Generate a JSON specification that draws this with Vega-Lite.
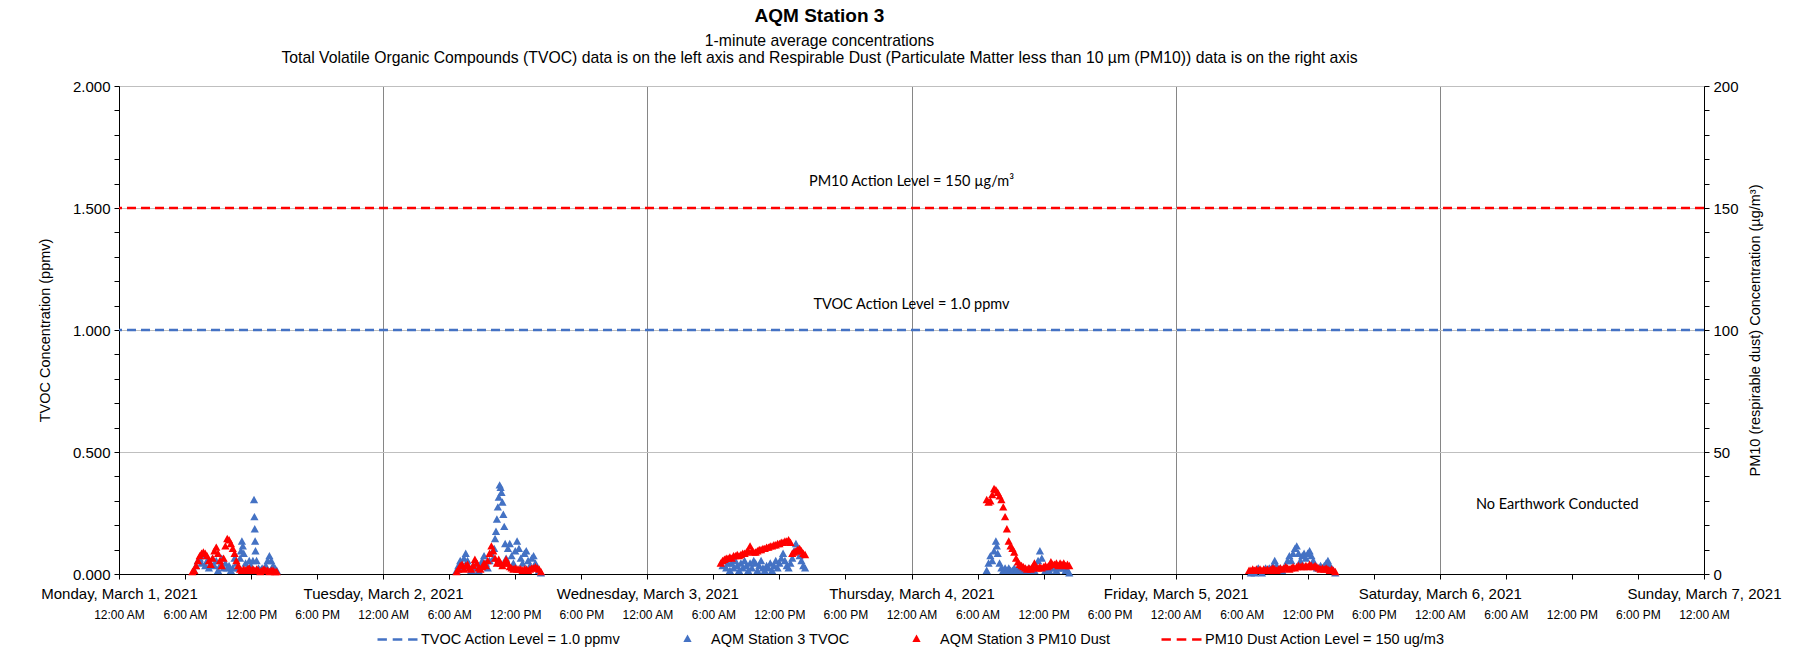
{
  "$schema": "https://vega.github.io/schema/vega-lite/v6.json",
  "width": 1585,
  "height": 488,
  "autosize": "none",
  "padding": {"left": 119, "top": 86, "right": 93, "bottom": 81},
  "background": "white",
  "title": {
    "text": "AQM Station 3",
    "subtitle": ["1-minute average concentrations", "Total Volatile Organic Compounds (TVOC) data is on the left axis and Respirable Dust (Particulate Matter less than 10 µm (PM10)) data is on the right axis"],
    "anchor": "middle",
    "frame": "group",
    "dx": -92,
    "offset": 13,
    "font": "Liberation Sans",
    "fontSize": 19,
    "fontWeight": "bold",
    "color": "#000000",
    "subtitleFont": "Liberation Sans",
    "subtitleFontSize": 15.75,
    "subtitleColor": "#000000",
    "subtitlePadding": 8,
    "subtitleLineHeight": 17
  },
  "datasets": {
    "tvoc": [
      {"t": "2021-03-01T06:50", "v": 0.01}, {"t": "2021-03-01T07:00", "v": 0.03}, {"t": "2021-03-01T07:10", "v": 0.05}, {"t": "2021-03-01T07:20", "v": 0.06},
      {"t": "2021-03-01T07:30", "v": 0.04}, {"t": "2021-03-01T07:40", "v": 0.07}, {"t": "2021-03-01T07:50", "v": 0.03}, {"t": "2021-03-01T08:00", "v": 0.05},
      {"t": "2021-03-01T08:10", "v": 0.02}, {"t": "2021-03-01T08:20", "v": 0.04}, {"t": "2021-03-01T08:30", "v": 0.06}, {"t": "2021-03-01T08:40", "v": 0.03},
      {"t": "2021-03-01T08:50", "v": 0.05}, {"t": "2021-03-01T09:00", "v": 0.01}, {"t": "2021-03-01T09:10", "v": 0.03}, {"t": "2021-03-01T09:20", "v": 0.06},
      {"t": "2021-03-01T09:30", "v": 0.02}, {"t": "2021-03-01T09:40", "v": 0.04}, {"t": "2021-03-01T09:50", "v": 0.02}, {"t": "2021-03-01T10:00", "v": 0.03},
      {"t": "2021-03-01T10:10", "v": 0.01}, {"t": "2021-03-01T10:20", "v": 0.02}, {"t": "2021-03-01T10:30", "v": 0.06}, {"t": "2021-03-01T10:40", "v": 0.04},
      {"t": "2021-03-01T10:50", "v": 0.02}, {"t": "2021-03-01T11:00", "v": 0.06}, {"t": "2021-03-01T11:05", "v": 0.09}, {"t": "2021-03-01T11:10", "v": 0.13},
      {"t": "2021-03-01T11:15", "v": 0.11}, {"t": "2021-03-01T11:20", "v": 0.08}, {"t": "2021-03-01T11:30", "v": 0.04}, {"t": "2021-03-01T11:40", "v": 0.02},
      {"t": "2021-03-01T11:50", "v": 0.05}, {"t": "2021-03-01T12:00", "v": 0.03}, {"t": "2021-03-01T12:10", "v": 0.05}, {"t": "2021-03-01T12:16", "v": 0.30},
      {"t": "2021-03-01T12:18", "v": 0.23}, {"t": "2021-03-01T12:20", "v": 0.18}, {"t": "2021-03-01T12:22", "v": 0.13}, {"t": "2021-03-01T12:24", "v": 0.09},
      {"t": "2021-03-01T12:30", "v": 0.05}, {"t": "2021-03-01T12:40", "v": 0.02}, {"t": "2021-03-01T12:50", "v": 0.01}, {"t": "2021-03-01T13:00", "v": 0.02},
      {"t": "2021-03-01T13:10", "v": 0.01}, {"t": "2021-03-01T13:20", "v": 0.03}, {"t": "2021-03-01T13:30", "v": 0.05}, {"t": "2021-03-01T13:40", "v": 0.07},
      {"t": "2021-03-01T13:50", "v": 0.05}, {"t": "2021-03-01T14:00", "v": 0.03}, {"t": "2021-03-01T14:10", "v": 0.02}, {"t": "2021-03-01T14:20", "v": 0.01},

      {"t": "2021-03-02T06:40", "v": 0.01}, {"t": "2021-03-02T06:50", "v": 0.03}, {"t": "2021-03-02T07:00", "v": 0.05}, {"t": "2021-03-02T07:10", "v": 0.02},
      {"t": "2021-03-02T07:20", "v": 0.06}, {"t": "2021-03-02T07:30", "v": 0.08}, {"t": "2021-03-02T07:40", "v": 0.05}, {"t": "2021-03-02T07:50", "v": 0.02},
      {"t": "2021-03-02T08:00", "v": 0.01}, {"t": "2021-03-02T08:10", "v": 0.03}, {"t": "2021-03-02T08:20", "v": 0.02}, {"t": "2021-03-02T08:30", "v": 0.04},
      {"t": "2021-03-02T08:40", "v": 0.01}, {"t": "2021-03-02T08:50", "v": 0.03}, {"t": "2021-03-02T09:00", "v": 0.05}, {"t": "2021-03-02T09:10", "v": 0.07},
      {"t": "2021-03-02T09:20", "v": 0.04}, {"t": "2021-03-02T09:30", "v": 0.02}, {"t": "2021-03-02T09:40", "v": 0.05}, {"t": "2021-03-02T09:50", "v": 0.08},
      {"t": "2021-03-02T10:00", "v": 0.06}, {"t": "2021-03-02T10:05", "v": 0.10}, {"t": "2021-03-02T10:10", "v": 0.14}, {"t": "2021-03-02T10:15", "v": 0.17},
      {"t": "2021-03-02T10:20", "v": 0.22}, {"t": "2021-03-02T10:25", "v": 0.27}, {"t": "2021-03-02T10:30", "v": 0.31}, {"t": "2021-03-02T10:35", "v": 0.36},
      {"t": "2021-03-02T10:40", "v": 0.35}, {"t": "2021-03-02T10:45", "v": 0.33}, {"t": "2021-03-02T10:50", "v": 0.29}, {"t": "2021-03-02T10:55", "v": 0.24},
      {"t": "2021-03-02T11:00", "v": 0.19}, {"t": "2021-03-02T11:05", "v": 0.12}, {"t": "2021-03-02T11:10", "v": 0.06}, {"t": "2021-03-02T11:20", "v": 0.10},
      {"t": "2021-03-02T11:30", "v": 0.12}, {"t": "2021-03-02T11:40", "v": 0.07}, {"t": "2021-03-02T11:50", "v": 0.04}, {"t": "2021-03-02T12:00", "v": 0.09},
      {"t": "2021-03-02T12:10", "v": 0.13}, {"t": "2021-03-02T12:20", "v": 0.10}, {"t": "2021-03-02T12:30", "v": 0.06}, {"t": "2021-03-02T12:40", "v": 0.04},
      {"t": "2021-03-02T12:50", "v": 0.08}, {"t": "2021-03-02T13:00", "v": 0.09}, {"t": "2021-03-02T13:10", "v": 0.05}, {"t": "2021-03-02T13:20", "v": 0.03},
      {"t": "2021-03-02T13:30", "v": 0.06}, {"t": "2021-03-02T13:40", "v": 0.07}, {"t": "2021-03-02T13:50", "v": 0.04}, {"t": "2021-03-02T14:00", "v": 0.02},
      {"t": "2021-03-02T14:10", "v": 0.01}, {"t": "2021-03-02T14:20", "v": 0.00},

      {"t": "2021-03-03T06:50", "v": 0.03}, {"t": "2021-03-03T07:00", "v": 0.05}, {"t": "2021-03-03T07:10", "v": 0.02}, {"t": "2021-03-03T07:20", "v": 0.04},
      {"t": "2021-03-03T07:30", "v": 0.01}, {"t": "2021-03-03T07:40", "v": 0.04}, {"t": "2021-03-03T07:50", "v": 0.02}, {"t": "2021-03-03T08:00", "v": 0.05},
      {"t": "2021-03-03T08:10", "v": 0.03}, {"t": "2021-03-03T08:20", "v": 0.01}, {"t": "2021-03-03T08:30", "v": 0.04}, {"t": "2021-03-03T08:40", "v": 0.02},
      {"t": "2021-03-03T08:50", "v": 0.05}, {"t": "2021-03-03T09:00", "v": 0.03}, {"t": "2021-03-03T09:10", "v": 0.01}, {"t": "2021-03-03T09:20", "v": 0.04},
      {"t": "2021-03-03T09:30", "v": 0.02}, {"t": "2021-03-03T09:40", "v": 0.05}, {"t": "2021-03-03T09:50", "v": 0.04}, {"t": "2021-03-03T10:00", "v": 0.01},
      {"t": "2021-03-03T10:10", "v": 0.03}, {"t": "2021-03-03T10:20", "v": 0.05}, {"t": "2021-03-03T10:30", "v": 0.02}, {"t": "2021-03-03T10:40", "v": 0.01},
      {"t": "2021-03-03T10:50", "v": 0.03}, {"t": "2021-03-03T11:00", "v": 0.02}, {"t": "2021-03-03T11:10", "v": 0.04}, {"t": "2021-03-03T11:20", "v": 0.01},
      {"t": "2021-03-03T11:30", "v": 0.03}, {"t": "2021-03-03T11:40", "v": 0.05}, {"t": "2021-03-03T11:50", "v": 0.02}, {"t": "2021-03-03T12:00", "v": 0.04},
      {"t": "2021-03-03T12:10", "v": 0.06}, {"t": "2021-03-03T12:20", "v": 0.08}, {"t": "2021-03-03T12:30", "v": 0.05}, {"t": "2021-03-03T12:40", "v": 0.03},
      {"t": "2021-03-03T12:50", "v": 0.02}, {"t": "2021-03-03T13:00", "v": 0.04}, {"t": "2021-03-03T13:10", "v": 0.06}, {"t": "2021-03-03T13:20", "v": 0.09},
      {"t": "2021-03-03T13:30", "v": 0.12}, {"t": "2021-03-03T13:40", "v": 0.10}, {"t": "2021-03-03T13:50", "v": 0.07}, {"t": "2021-03-03T14:00", "v": 0.05},
      {"t": "2021-03-03T14:10", "v": 0.03}, {"t": "2021-03-03T14:20", "v": 0.02},

      {"t": "2021-03-04T06:50", "v": 0.01}, {"t": "2021-03-04T07:00", "v": 0.04}, {"t": "2021-03-04T07:10", "v": 0.07}, {"t": "2021-03-04T07:20", "v": 0.05},
      {"t": "2021-03-04T07:30", "v": 0.09}, {"t": "2021-03-04T07:40", "v": 0.13}, {"t": "2021-03-04T07:45", "v": 0.11}, {"t": "2021-03-04T07:50", "v": 0.08},
      {"t": "2021-03-04T08:00", "v": 0.04}, {"t": "2021-03-04T08:10", "v": 0.02}, {"t": "2021-03-04T08:20", "v": 0.01}, {"t": "2021-03-04T08:30", "v": 0.02},
      {"t": "2021-03-04T08:40", "v": 0.01}, {"t": "2021-03-04T08:50", "v": 0.02}, {"t": "2021-03-04T09:00", "v": 0.01}, {"t": "2021-03-04T09:10", "v": 0.01},
      {"t": "2021-03-04T09:20", "v": 0.02}, {"t": "2021-03-04T09:30", "v": 0.01}, {"t": "2021-03-04T09:40", "v": 0.02}, {"t": "2021-03-04T09:50", "v": 0.01},
      {"t": "2021-03-04T10:00", "v": 0.01}, {"t": "2021-03-04T10:10", "v": 0.02}, {"t": "2021-03-04T10:20", "v": 0.01}, {"t": "2021-03-04T10:30", "v": 0.01},
      {"t": "2021-03-04T10:40", "v": 0.02}, {"t": "2021-03-04T10:50", "v": 0.01}, {"t": "2021-03-04T11:00", "v": 0.02}, {"t": "2021-03-04T11:10", "v": 0.01},
      {"t": "2021-03-04T11:20", "v": 0.03}, {"t": "2021-03-04T11:30", "v": 0.05}, {"t": "2021-03-04T11:40", "v": 0.09}, {"t": "2021-03-04T11:50", "v": 0.06},
      {"t": "2021-03-04T12:00", "v": 0.02}, {"t": "2021-03-04T12:10", "v": 0.01}, {"t": "2021-03-04T12:20", "v": 0.02}, {"t": "2021-03-04T12:30", "v": 0.01},
      {"t": "2021-03-04T12:40", "v": 0.02}, {"t": "2021-03-04T12:50", "v": 0.03}, {"t": "2021-03-04T13:00", "v": 0.02}, {"t": "2021-03-04T13:10", "v": 0.01},
      {"t": "2021-03-04T13:20", "v": 0.02}, {"t": "2021-03-04T13:30", "v": 0.02}, {"t": "2021-03-04T13:40", "v": 0.03}, {"t": "2021-03-04T13:50", "v": 0.02},
      {"t": "2021-03-04T14:00", "v": 0.01}, {"t": "2021-03-04T14:10", "v": 0.01}, {"t": "2021-03-04T14:20", "v": 0.00},

      {"t": "2021-03-05T06:50", "v": 0.00}, {"t": "2021-03-05T07:00", "v": 0.01}, {"t": "2021-03-05T07:10", "v": 0.00}, {"t": "2021-03-05T07:20", "v": 0.01},
      {"t": "2021-03-05T07:30", "v": 0.02}, {"t": "2021-03-05T07:40", "v": 0.01}, {"t": "2021-03-05T07:50", "v": 0.00}, {"t": "2021-03-05T08:00", "v": 0.01},
      {"t": "2021-03-05T08:10", "v": 0.02}, {"t": "2021-03-05T08:20", "v": 0.01}, {"t": "2021-03-05T08:30", "v": 0.02}, {"t": "2021-03-05T08:40", "v": 0.01},
      {"t": "2021-03-05T08:50", "v": 0.03}, {"t": "2021-03-05T09:00", "v": 0.05}, {"t": "2021-03-05T09:10", "v": 0.03}, {"t": "2021-03-05T09:20", "v": 0.01},
      {"t": "2021-03-05T09:30", "v": 0.02}, {"t": "2021-03-05T09:40", "v": 0.01}, {"t": "2021-03-05T09:50", "v": 0.02}, {"t": "2021-03-05T10:00", "v": 0.03},
      {"t": "2021-03-05T10:10", "v": 0.05}, {"t": "2021-03-05T10:20", "v": 0.07}, {"t": "2021-03-05T10:30", "v": 0.05}, {"t": "2021-03-05T10:40", "v": 0.08},
      {"t": "2021-03-05T10:50", "v": 0.10}, {"t": "2021-03-05T11:00", "v": 0.11}, {"t": "2021-03-05T11:10", "v": 0.08}, {"t": "2021-03-05T11:20", "v": 0.05},
      {"t": "2021-03-05T11:30", "v": 0.07}, {"t": "2021-03-05T11:40", "v": 0.08}, {"t": "2021-03-05T11:50", "v": 0.06}, {"t": "2021-03-05T12:00", "v": 0.08},
      {"t": "2021-03-05T12:10", "v": 0.09}, {"t": "2021-03-05T12:20", "v": 0.07}, {"t": "2021-03-05T12:30", "v": 0.05}, {"t": "2021-03-05T12:40", "v": 0.03},
      {"t": "2021-03-05T12:50", "v": 0.02}, {"t": "2021-03-05T13:00", "v": 0.02}, {"t": "2021-03-05T13:10", "v": 0.03}, {"t": "2021-03-05T13:20", "v": 0.02},
      {"t": "2021-03-05T13:30", "v": 0.03}, {"t": "2021-03-05T13:40", "v": 0.04}, {"t": "2021-03-05T13:50", "v": 0.05}, {"t": "2021-03-05T14:00", "v": 0.03},
      {"t": "2021-03-05T14:10", "v": 0.02}, {"t": "2021-03-05T14:20", "v": 0.01}, {"t": "2021-03-05T14:30", "v": 0.00}
    ],
    "pm10": [
      {"t": "2021-03-01T06:40", "v": 0.5}, {"t": "2021-03-01T06:50", "v": 1}, {"t": "2021-03-01T07:00", "v": 3}, {"t": "2021-03-01T07:10", "v": 5},
      {"t": "2021-03-01T07:20", "v": 7}, {"t": "2021-03-01T07:30", "v": 8}, {"t": "2021-03-01T07:40", "v": 8.5}, {"t": "2021-03-01T07:50", "v": 8},
      {"t": "2021-03-01T08:00", "v": 7}, {"t": "2021-03-01T08:10", "v": 5}, {"t": "2021-03-01T08:20", "v": 3.5}, {"t": "2021-03-01T08:30", "v": 6},
      {"t": "2021-03-01T08:40", "v": 9}, {"t": "2021-03-01T08:50", "v": 10.5}, {"t": "2021-03-01T09:00", "v": 8}, {"t": "2021-03-01T09:10", "v": 5},
      {"t": "2021-03-01T09:20", "v": 3}, {"t": "2021-03-01T09:30", "v": 6}, {"t": "2021-03-01T09:40", "v": 11}, {"t": "2021-03-01T09:50", "v": 14},
      {"t": "2021-03-01T10:00", "v": 13.5}, {"t": "2021-03-01T10:10", "v": 12}, {"t": "2021-03-01T10:20", "v": 10}, {"t": "2021-03-01T10:30", "v": 8},
      {"t": "2021-03-01T10:40", "v": 5}, {"t": "2021-03-01T10:50", "v": 3}, {"t": "2021-03-01T11:00", "v": 1.5}, {"t": "2021-03-01T11:10", "v": 1},
      {"t": "2021-03-01T11:20", "v": 1.5}, {"t": "2021-03-01T11:30", "v": 1}, {"t": "2021-03-01T11:40", "v": 1.5}, {"t": "2021-03-01T11:50", "v": 2},
      {"t": "2021-03-01T12:00", "v": 1}, {"t": "2021-03-01T12:10", "v": 1.5}, {"t": "2021-03-01T12:20", "v": 1}, {"t": "2021-03-01T12:30", "v": 1.5},
      {"t": "2021-03-01T12:40", "v": 1}, {"t": "2021-03-01T12:50", "v": 0.5}, {"t": "2021-03-01T13:00", "v": 1}, {"t": "2021-03-01T13:10", "v": 1.5},
      {"t": "2021-03-01T13:20", "v": 1}, {"t": "2021-03-01T13:30", "v": 1}, {"t": "2021-03-01T13:40", "v": 0.5}, {"t": "2021-03-01T13:50", "v": 1},
      {"t": "2021-03-01T14:00", "v": 1}, {"t": "2021-03-01T14:10", "v": 0.5}, {"t": "2021-03-01T14:20", "v": 0.5},

      {"t": "2021-03-02T06:40", "v": 0.5}, {"t": "2021-03-02T06:50", "v": 1.5}, {"t": "2021-03-02T07:00", "v": 3}, {"t": "2021-03-02T07:10", "v": 3.5},
      {"t": "2021-03-02T07:20", "v": 1.5}, {"t": "2021-03-02T07:30", "v": 3}, {"t": "2021-03-02T07:40", "v": 3.5}, {"t": "2021-03-02T07:50", "v": 2},
      {"t": "2021-03-02T08:00", "v": 1.5}, {"t": "2021-03-02T08:10", "v": 3}, {"t": "2021-03-02T08:20", "v": 5.5}, {"t": "2021-03-02T08:30", "v": 4},
      {"t": "2021-03-02T08:40", "v": 2}, {"t": "2021-03-02T08:50", "v": 1.5}, {"t": "2021-03-02T09:00", "v": 2.5}, {"t": "2021-03-02T09:10", "v": 4},
      {"t": "2021-03-02T09:20", "v": 3}, {"t": "2021-03-02T09:30", "v": 5}, {"t": "2021-03-02T09:40", "v": 8}, {"t": "2021-03-02T09:50", "v": 11},
      {"t": "2021-03-02T10:00", "v": 9}, {"t": "2021-03-02T10:10", "v": 6}, {"t": "2021-03-02T10:20", "v": 4}, {"t": "2021-03-02T10:30", "v": 5.5},
      {"t": "2021-03-02T10:40", "v": 4}, {"t": "2021-03-02T10:50", "v": 3}, {"t": "2021-03-02T11:00", "v": 4}, {"t": "2021-03-02T11:10", "v": 5.5},
      {"t": "2021-03-02T11:20", "v": 4}, {"t": "2021-03-02T11:30", "v": 2.5}, {"t": "2021-03-02T11:40", "v": 2}, {"t": "2021-03-02T11:50", "v": 1.5},
      {"t": "2021-03-02T12:00", "v": 2}, {"t": "2021-03-02T12:10", "v": 1.5}, {"t": "2021-03-02T12:20", "v": 1.5}, {"t": "2021-03-02T12:30", "v": 1.5},
      {"t": "2021-03-02T12:40", "v": 1}, {"t": "2021-03-02T12:50", "v": 1.5}, {"t": "2021-03-02T13:00", "v": 1.5}, {"t": "2021-03-02T13:10", "v": 1},
      {"t": "2021-03-02T13:20", "v": 1.5}, {"t": "2021-03-02T13:30", "v": 2}, {"t": "2021-03-02T13:40", "v": 2}, {"t": "2021-03-02T13:50", "v": 2.5},
      {"t": "2021-03-02T14:00", "v": 2}, {"t": "2021-03-02T14:10", "v": 1.5}, {"t": "2021-03-02T14:20", "v": 0.5},

      {"t": "2021-03-03T06:40", "v": 4}, {"t": "2021-03-03T06:50", "v": 5}, {"t": "2021-03-03T07:00", "v": 5.5}, {"t": "2021-03-03T07:10", "v": 6},
      {"t": "2021-03-03T07:20", "v": 6}, {"t": "2021-03-03T07:30", "v": 6.5}, {"t": "2021-03-03T07:40", "v": 6}, {"t": "2021-03-03T07:50", "v": 7},
      {"t": "2021-03-03T08:00", "v": 7}, {"t": "2021-03-03T08:10", "v": 7.5}, {"t": "2021-03-03T08:20", "v": 7}, {"t": "2021-03-03T08:30", "v": 7.5},
      {"t": "2021-03-03T08:40", "v": 8}, {"t": "2021-03-03T08:50", "v": 8}, {"t": "2021-03-03T09:00", "v": 8.5}, {"t": "2021-03-03T09:10", "v": 9},
      {"t": "2021-03-03T09:20", "v": 11}, {"t": "2021-03-03T09:30", "v": 9}, {"t": "2021-03-03T09:40", "v": 8.5}, {"t": "2021-03-03T09:50", "v": 8.5},
      {"t": "2021-03-03T10:00", "v": 9}, {"t": "2021-03-03T10:10", "v": 9.5}, {"t": "2021-03-03T10:20", "v": 9.5}, {"t": "2021-03-03T10:30", "v": 10},
      {"t": "2021-03-03T10:40", "v": 10}, {"t": "2021-03-03T10:50", "v": 10.5}, {"t": "2021-03-03T11:00", "v": 10.5}, {"t": "2021-03-03T11:10", "v": 11},
      {"t": "2021-03-03T11:20", "v": 11}, {"t": "2021-03-03T11:30", "v": 11.5}, {"t": "2021-03-03T11:40", "v": 11.5}, {"t": "2021-03-03T11:50", "v": 12},
      {"t": "2021-03-03T12:00", "v": 12}, {"t": "2021-03-03T12:10", "v": 12.5}, {"t": "2021-03-03T12:20", "v": 12.5}, {"t": "2021-03-03T12:30", "v": 13},
      {"t": "2021-03-03T12:40", "v": 13}, {"t": "2021-03-03T12:50", "v": 13.5}, {"t": "2021-03-03T13:00", "v": 12.5}, {"t": "2021-03-03T13:10", "v": 8},
      {"t": "2021-03-03T13:20", "v": 8.5}, {"t": "2021-03-03T13:30", "v": 9}, {"t": "2021-03-03T13:40", "v": 9.5}, {"t": "2021-03-03T13:50", "v": 10},
      {"t": "2021-03-03T14:00", "v": 9}, {"t": "2021-03-03T14:10", "v": 8}, {"t": "2021-03-03T14:20", "v": 7.5},

      {"t": "2021-03-04T06:50", "v": 30}, {"t": "2021-03-04T07:00", "v": 29}, {"t": "2021-03-04T07:10", "v": 29.5}, {"t": "2021-03-04T07:20", "v": 32},
      {"t": "2021-03-04T07:30", "v": 34.5}, {"t": "2021-03-04T07:40", "v": 34}, {"t": "2021-03-04T07:50", "v": 33}, {"t": "2021-03-04T08:00", "v": 31.5},
      {"t": "2021-03-04T08:10", "v": 30}, {"t": "2021-03-04T08:20", "v": 27}, {"t": "2021-03-04T08:30", "v": 23}, {"t": "2021-03-04T08:40", "v": 18},
      {"t": "2021-03-04T08:50", "v": 13}, {"t": "2021-03-04T09:00", "v": 11}, {"t": "2021-03-04T09:10", "v": 10}, {"t": "2021-03-04T09:20", "v": 8.5},
      {"t": "2021-03-04T09:30", "v": 6}, {"t": "2021-03-04T09:40", "v": 4.5}, {"t": "2021-03-04T09:50", "v": 3.5}, {"t": "2021-03-04T10:00", "v": 3},
      {"t": "2021-03-04T10:10", "v": 2.5}, {"t": "2021-03-04T10:20", "v": 2}, {"t": "2021-03-04T10:30", "v": 1.5}, {"t": "2021-03-04T10:40", "v": 2},
      {"t": "2021-03-04T10:50", "v": 1.5}, {"t": "2021-03-04T11:00", "v": 2.5}, {"t": "2021-03-04T11:10", "v": 4}, {"t": "2021-03-04T11:20", "v": 2},
      {"t": "2021-03-04T11:30", "v": 2}, {"t": "2021-03-04T11:40", "v": 2.5}, {"t": "2021-03-04T11:50", "v": 2}, {"t": "2021-03-04T12:00", "v": 2.5},
      {"t": "2021-03-04T12:10", "v": 3}, {"t": "2021-03-04T12:20", "v": 2.5}, {"t": "2021-03-04T12:30", "v": 3}, {"t": "2021-03-04T12:40", "v": 4.5},
      {"t": "2021-03-04T12:50", "v": 3.5}, {"t": "2021-03-04T13:00", "v": 3.5}, {"t": "2021-03-04T13:10", "v": 4}, {"t": "2021-03-04T13:20", "v": 3},
      {"t": "2021-03-04T13:30", "v": 4}, {"t": "2021-03-04T13:40", "v": 3.5}, {"t": "2021-03-04T13:50", "v": 4}, {"t": "2021-03-04T14:00", "v": 3},
      {"t": "2021-03-04T14:10", "v": 3.5}, {"t": "2021-03-04T14:20", "v": 3},

      {"t": "2021-03-05T06:40", "v": 1}, {"t": "2021-03-05T06:50", "v": 1}, {"t": "2021-03-05T07:00", "v": 1.5}, {"t": "2021-03-05T07:10", "v": 1},
      {"t": "2021-03-05T07:20", "v": 1.5}, {"t": "2021-03-05T07:30", "v": 1}, {"t": "2021-03-05T07:40", "v": 1.5}, {"t": "2021-03-05T07:50", "v": 1},
      {"t": "2021-03-05T08:00", "v": 1.5}, {"t": "2021-03-05T08:10", "v": 1}, {"t": "2021-03-05T08:20", "v": 1.5}, {"t": "2021-03-05T08:30", "v": 1},
      {"t": "2021-03-05T08:40", "v": 1.5}, {"t": "2021-03-05T08:50", "v": 2}, {"t": "2021-03-05T09:00", "v": 1.5}, {"t": "2021-03-05T09:10", "v": 1},
      {"t": "2021-03-05T09:20", "v": 1.5}, {"t": "2021-03-05T09:30", "v": 2}, {"t": "2021-03-05T09:40", "v": 1.5}, {"t": "2021-03-05T09:50", "v": 2},
      {"t": "2021-03-05T10:00", "v": 2.5}, {"t": "2021-03-05T10:10", "v": 2}, {"t": "2021-03-05T10:20", "v": 1.5}, {"t": "2021-03-05T10:30", "v": 2},
      {"t": "2021-03-05T10:40", "v": 2.5}, {"t": "2021-03-05T10:50", "v": 2}, {"t": "2021-03-05T11:00", "v": 2.5}, {"t": "2021-03-05T11:10", "v": 3},
      {"t": "2021-03-05T11:20", "v": 2.5}, {"t": "2021-03-05T11:30", "v": 3}, {"t": "2021-03-05T11:40", "v": 2.5}, {"t": "2021-03-05T11:50", "v": 3},
      {"t": "2021-03-05T12:00", "v": 2.5}, {"t": "2021-03-05T12:10", "v": 3.5}, {"t": "2021-03-05T12:20", "v": 3}, {"t": "2021-03-05T12:30", "v": 2.5},
      {"t": "2021-03-05T12:40", "v": 3}, {"t": "2021-03-05T12:50", "v": 2.5}, {"t": "2021-03-05T13:00", "v": 2}, {"t": "2021-03-05T13:10", "v": 1.5},
      {"t": "2021-03-05T13:20", "v": 2}, {"t": "2021-03-05T13:30", "v": 1.5}, {"t": "2021-03-05T13:40", "v": 2}, {"t": "2021-03-05T13:50", "v": 1.5},
      {"t": "2021-03-05T14:00", "v": 1}, {"t": "2021-03-05T14:10", "v": 1.5}, {"t": "2021-03-05T14:20", "v": 1}, {"t": "2021-03-05T14:30", "v": 0.5}
    ],
    "tvocLevel": [{"level": 1.0}],
    "pmLevel": [{"level": 150}],
    "notes": [
      {"t": "2021-03-04T00:00", "v": 1.607, "label": "PM10 Action Level = 150 µg/m³"},
      {"t": "2021-03-04T00:00", "v": 1.102, "label": "TVOC Action Level = 1.0 ppmv"},
      {"t": "2021-03-06T10:40", "v": 0.283, "label": "No  Earthwork Conducted"}
    ]
  },
  "config": {
    "font": "Liberation Sans",
    "view": {"stroke": null},
    "axis": {
      "labelFont": "Liberation Sans",
      "titleFont": "Liberation Sans",
      "labelColor": "#000000",
      "titleColor": "#000000",
      "titleFontWeight": "normal",
      "domainColor": "#000000",
      "tickColor": "#000000",
      "labelOverlap": false,
      "labelFlush": false
    }
  },
  "layer": [
    {
      "data": {"name": "tvoc"},
      "mark": {"type": "point", "filled": false, "size": 1600, "strokeWidth": 2.5, "opacity": 1},
      "encoding": {
        "x": {
          "field": "t", "type": "temporal",
          "scale": {"domain": [{"year": 2021, "month": 3, "date": 1}, {"year": 2021, "month": 3, "date": 7}], "nice": false},
          "axis": {
            "orient": "bottom", "title": null,
            "tickCount": {"interval": "day", "step": 1},
            "format": "%A, %B %-d, %Y",
            "labelFontSize": 15, "labelPadding": 12, "labelLimit": 300,
            "ticks": false, "tickSize": 0, "domain": false,
            "grid": true, "gridColor": "#868686"
          }
        },
        "y": {
          "field": "v", "type": "quantitative",
          "scale": {"domain": [0, 2], "nice": false},
          "axis": {
            "orient": "left",
            "title": "TVOC Concentration (ppmv)",
            "titleFontSize": 14.5, "titlePadding": 20,
            "values": [0, 0.5, 1, 1.5, 2],
            "format": ".3f",
            "labelFontSize": 15, "labelPadding": 4, "tickSize": 5,
            "grid": true, "gridColor": "#BFBFBF"
          }
        },
        "color": {
          "datum": "AQM Station 3 TVOC",
          "scale": {
            "domain": ["TVOC Action Level = 1.0 ppmv", "AQM Station 3 TVOC", "AQM Station 3 PM10 Dust", "PM10 Dust Action Level = 150 ug/m3"],
            "range": ["#4472C4", "#4472C4", "#FF0000", "#FF0000"]
          },
          "legend": {
            "orient": "none", "legendX": 257, "legendY": 532,
            "direction": "horizontal", "title": null,
            "symbolSize": 1600, "symbolOpacity": 1, "symbolStrokeWidth": 2.5, "symbolDash": [1, 0],
            "labelFont": "Liberation Sans", "labelFontSize": 14.5, "labelColor": "#000000",
            "labelOffset": 2, "columnPadding": 45, "labelLimit": 400
          }
        },
        "shape": {
          "datum": "AQM Station 3 TVOC",
          "scale": {
            "domain": ["TVOC Action Level = 1.0 ppmv", "AQM Station 3 TVOC", "AQM Station 3 PM10 Dust", "PM10 Dust Action Level = 150 ug/m3"],
            "range": ["M-1,0H-0.53M-0.24,0H0.24M0.53,0H1", "M0,-0.12L0.1,0.06L-0.1,0.06Z", "M0,-0.12L0.1,0.06L-0.1,0.06Z", "M-1,0H-0.53M-0.24,0H0.24M0.53,0H1"]
          },
          "legend": {
            "orient": "none", "legendX": 257, "legendY": 532,
            "direction": "horizontal", "title": null,
            "symbolSize": 1600, "symbolOpacity": 1, "symbolStrokeWidth": 2.5, "symbolDash": [1, 0],
            "labelFont": "Liberation Sans", "labelFontSize": 14.5, "labelColor": "#000000",
            "labelOffset": 2, "columnPadding": 45, "labelLimit": 400
          }
        }
      }
    },
    {
      "data": {"name": "tvocLevel"},
      "mark": {"type": "rule", "strokeDash": [9, 5], "strokeWidth": 2.5},
      "encoding": {
        "y": {
          "field": "level", "type": "quantitative",
          "scale": {"domain": [0, 2], "nice": false},
          "axis": {
            "orient": "left", "title": null, "labels": false, "grid": false, "domain": false,
            "values": [0.1, 0.2, 0.3, 0.4, 0.6, 0.7, 0.8, 0.9, 1.1, 1.2, 1.3, 1.4, 1.6, 1.7, 1.8, 1.9],
            "tickSize": 5
          }
        },
        "color": {
          "datum": "TVOC Action Level = 1.0 ppmv",
          "legend": null,
          "scale": {
            "domain": ["TVOC Action Level = 1.0 ppmv", "AQM Station 3 TVOC", "AQM Station 3 PM10 Dust", "PM10 Dust Action Level = 150 ug/m3"],
            "range": ["#4472C4", "#4472C4", "#FF0000", "#FF0000"]
          }
        }
      }
    },
    {
      "data": {"name": "notes"},
      "mark": {"type": "text", "font": "Lato", "fontSize": 14.5, "color": "#000000", "align": "center", "baseline": "middle"},
      "encoding": {
        "x": {"field": "t", "type": "temporal", "axis": null,
              "scale": {"domain": [{"year": 2021, "month": 3, "date": 1}, {"year": 2021, "month": 3, "date": 7}], "nice": false}},
        "y": {"field": "v", "type": "quantitative", "axis": null, "scale": {"domain": [0, 2], "nice": false}},
        "text": {"field": "label"}
      }
    },
    {
      "data": {"name": "pm10"},
      "mark": {"type": "point", "filled": false, "size": 1600, "strokeWidth": 2.5, "opacity": 1},
      "encoding": {
        "x": {
          "field": "t", "type": "temporal",
          "scale": {"domain": [{"year": 2021, "month": 3, "date": 1}, {"year": 2021, "month": 3, "date": 7}], "nice": false},
          "axis": {
            "orient": "bottom", "title": null,
            "values": [
              {"year": 2021, "month": 3, "date": 1, "hours": 0}, {"year": 2021, "month": 3, "date": 1, "hours": 6}, {"year": 2021, "month": 3, "date": 1, "hours": 12}, {"year": 2021, "month": 3, "date": 1, "hours": 18},
              {"year": 2021, "month": 3, "date": 2, "hours": 0}, {"year": 2021, "month": 3, "date": 2, "hours": 6}, {"year": 2021, "month": 3, "date": 2, "hours": 12}, {"year": 2021, "month": 3, "date": 2, "hours": 18},
              {"year": 2021, "month": 3, "date": 3, "hours": 0}, {"year": 2021, "month": 3, "date": 3, "hours": 6}, {"year": 2021, "month": 3, "date": 3, "hours": 12}, {"year": 2021, "month": 3, "date": 3, "hours": 18},
              {"year": 2021, "month": 3, "date": 4, "hours": 0}, {"year": 2021, "month": 3, "date": 4, "hours": 6}, {"year": 2021, "month": 3, "date": 4, "hours": 12}, {"year": 2021, "month": 3, "date": 4, "hours": 18},
              {"year": 2021, "month": 3, "date": 5, "hours": 0}, {"year": 2021, "month": 3, "date": 5, "hours": 6}, {"year": 2021, "month": 3, "date": 5, "hours": 12}, {"year": 2021, "month": 3, "date": 5, "hours": 18},
              {"year": 2021, "month": 3, "date": 6, "hours": 0}, {"year": 2021, "month": 3, "date": 6, "hours": 6}, {"year": 2021, "month": 3, "date": 6, "hours": 12}, {"year": 2021, "month": 3, "date": 6, "hours": 18},
              {"year": 2021, "month": 3, "date": 7, "hours": 0}
            ],
            "format": "%-I:%M %p",
            "labelFontSize": 12, "labelPadding": 30, "labelLimit": 200, "tickSize": 5,
            "grid": false, "domain": true
          }
        },
        "y": {
          "field": "v", "type": "quantitative",
          "scale": {"domain": [0, 200], "nice": false},
          "axis": {
            "orient": "right",
            "title": "PM10 (respirable dust) Concentration (µg/m³)",
            "titleAngle": 270, "titleFontSize": 14.5, "titlePadding": 24,
            "values": [0, 50, 100, 150, 200],
            "format": "d",
            "labelFontSize": 15, "labelPadding": 4, "tickSize": 5, "grid": false
          }
        },
        "color": {
          "datum": "AQM Station 3 PM10 Dust",
          "scale": {
            "domain": ["TVOC Action Level = 1.0 ppmv", "AQM Station 3 TVOC", "AQM Station 3 PM10 Dust", "PM10 Dust Action Level = 150 ug/m3"],
            "range": ["#4472C4", "#4472C4", "#FF0000", "#FF0000"]
          }
        },
        "shape": {
          "datum": "AQM Station 3 PM10 Dust",
          "scale": {
            "domain": ["TVOC Action Level = 1.0 ppmv", "AQM Station 3 TVOC", "AQM Station 3 PM10 Dust", "PM10 Dust Action Level = 150 ug/m3"],
            "range": ["M-1,0H-0.53M-0.24,0H0.24M0.53,0H1", "M0,-0.12L0.1,0.06L-0.1,0.06Z", "M0,-0.12L0.1,0.06L-0.1,0.06Z", "M-1,0H-0.53M-0.24,0H0.24M0.53,0H1"]
          }
        }
      }
    },
    {
      "data": {"name": "pmLevel"},
      "mark": {"type": "rule", "strokeDash": [9, 5], "strokeWidth": 2.5},
      "encoding": {
        "y": {
          "field": "level", "type": "quantitative",
          "scale": {"domain": [0, 200], "nice": false},
          "axis": {
            "orient": "right", "title": null, "labels": false, "grid": false, "domain": false,
            "values": [10, 20, 30, 40, 60, 70, 80, 90, 110, 120, 130, 140, 160, 170, 180, 190],
            "tickSize": 5
          }
        },
        "color": {
          "datum": "PM10 Dust Action Level = 150 ug/m3",
          "legend": null,
          "scale": {
            "domain": ["TVOC Action Level = 1.0 ppmv", "AQM Station 3 TVOC", "AQM Station 3 PM10 Dust", "PM10 Dust Action Level = 150 ug/m3"],
            "range": ["#4472C4", "#4472C4", "#FF0000", "#FF0000"]
          }
        }
      }
    }
  ],
  "resolve": {"scale": {"y": "independent"}, "axis": {"x": "independent", "y": "independent"}}
}
